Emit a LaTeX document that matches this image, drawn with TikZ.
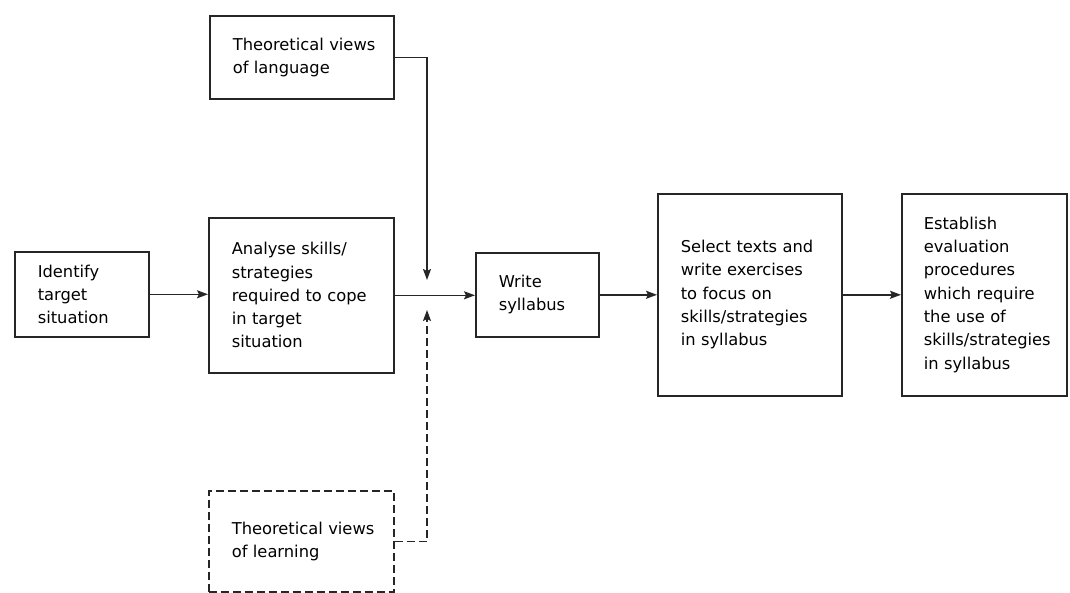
\documentclass[tikz,border=0pt]{standalone}
\usepackage{fontspec}
\setmainfont{DejaVu Sans}
\usetikzlibrary{arrows.meta}
\hbadness=10000 \hfuzz=60pt
\begin{document}
\begin{tikzpicture}[x=1pt,y=-1pt,
  box/.style={draw=black!85, line width=1.6pt, anchor=north west, align=left,
    inner xsep=23pt, inner ysep=0pt, text=black,
    font=\fontsize{16.3}{23.3}\selectfont},
  dbox/.style={box, dash pattern=on 8pt off 4pt},
  arr/.style={draw=black!85, line width=1.5pt, -{Stealth[length=11pt,width=8pt,inset=2pt]}},
  darr/.style={arr, dash pattern=on 8pt off 4pt}]
\useasboundingbox (0,0) rectangle (1070,593);
\fill[white] (0,0) rectangle (1070,593);
\node[box, text width=88pt, minimum height=85pt] (ident) at (14,251)
  {Identify\\target\\situation};
\node[box, text width=138pt, minimum height=83pt] (lang) at (209,15)
  {Theoretical~views\\of language};
\node[box, text width=139pt, minimum height=155pt] (analyse) at (208,217)
  {Analyse skills/\\strategies\\required~to~cope\\in target\\situation};
\node[dbox, text width=139pt, minimum height=101pt] (learn) at (208,490)
  {Theoretical~views\\of learning};
\node[box, text width=77pt, minimum height=84pt] (write) at (475,252)
  {Write\\syllabus};
\node[box, text width=138pt, minimum height=202pt] (select) at (657,193)
  {Select~texts~and\\write~exercises\\to focus on\\skills/strategies\\in syllabus};
\node[box, text width=121pt, minimum height=202pt, inner xsep=22pt] (establish) at (901,193)
  {Establish\\evaluation\\procedures\\which~require\\the~use~of\\skills/strategies\\in syllabus};
\coordinate (toptip) at (427,280);
\coordinate (bottip) at (427,310);
\draw[arr] (ident.east) -- (ident.east -| analyse.west);
\draw[arr] (analyse.east) -- (analyse.east -| write.west);
\draw[arr] (lang.east) -| (toptip);
\draw[darr] (learn.east) -| (bottip);
\draw[arr] (write.east) -- (write.east -| select.west);
\draw[arr] (select.east) -- (establish.west);
\end{tikzpicture}
\end{document}
